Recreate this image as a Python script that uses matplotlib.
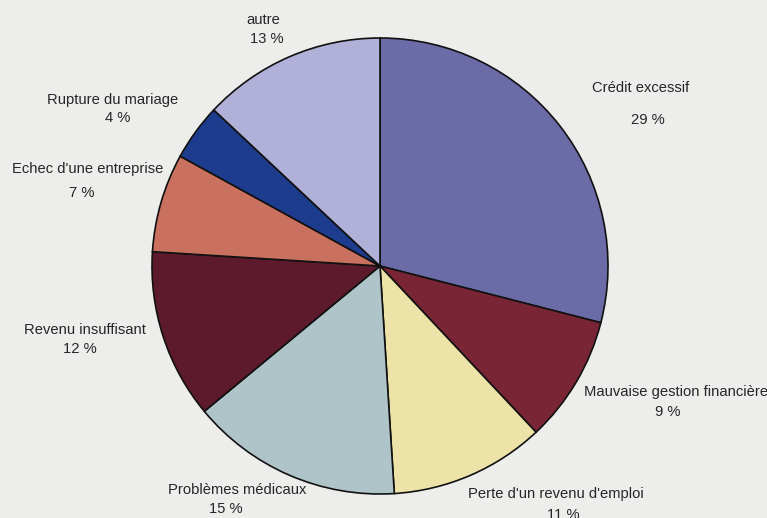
import matplotlib
matplotlib.use("Agg")
import matplotlib.pyplot as plt

# Causes de surendettement (part en %)
categories = [
    "Crédit excessif",
    "Mauvaise gestion financière",
    "Perte d'un revenu d'emploi",
    "Problèmes médicaux",
    "Revenu insuffisant",
    "Echec d'une entreprise",
    "Rupture du mariage",
    "autre",
]
shares = [29, 9, 11, 15, 12, 7, 4, 13]
colors = ["#6B6BA8", "#7A2535", "#EDE3A8", "#AFC4C9",
          "#5C1A2C", "#C9705F", "#1E3C8E", "#B0B0D8"]

# label anchors in pixel space: (name x, name y, value x, value y)
label_pos = [
    (641, 88, 648, 120),
    (676, 392, 668, 412),
    (556, 494, 563, 515),
    (237, 490, 226, 509),
    (85, 330, 80, 349),
    (88, 169, 82, 193),
    (113, 100, 118, 118),
    (263, 20, 267, 39),
]

W, H = 767, 518
bg = "#EDEDEB"
fig = plt.figure(figsize=(W / 100, H / 100), dpi=100, facecolor=bg)
ax = fig.add_axes([0, 0, 1, 1])
ax.set_facecolor(bg)

ax.pie(shares, colors=colors, center=(380, 266), radius=228,
       startangle=-90, counterclock=True, frame=True,
       wedgeprops=dict(edgecolor="#111111", linewidth=1.2))

ax.set_xlim(0, W)
ax.set_ylim(H, 0)
ax.set_aspect("auto")
ax.axis("off")

font = dict(family=["Liberation Sans", "DejaVu Sans"],
            fontsize=10.6, color="#262626", ha="center", va="center")
for name, val, (xn, yn, xv, yv) in zip(categories, shares, label_pos):
    ax.text(xn, yn, name, **font)
    ax.text(xv, yv, f"{val} %", **font)

fig.savefig("out.png", dpi=100, facecolor=bg)
